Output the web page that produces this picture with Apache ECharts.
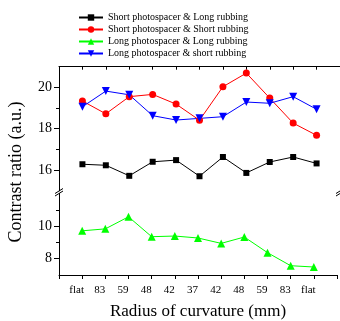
<!DOCTYPE html>
<html>
<head>
<meta charset="utf-8">
<script src="https://cdn.jsdelivr.net/npm/echarts@6/dist/echarts.min.js"></script>
<style>
  html, body { margin: 0; padding: 0; background: #fff; }
  #chart { width: 340px; height: 321px; }
</style>
</head>
<body>
<div id="chart"></div>
<script>
const categories = ['flat', '83', '59', '48', '42', '37', '42', '48', '59', '83', 'flat'];

const shortLong = [16.28, 16.23, 15.72, 16.40, 16.48, 15.70, 16.63, 15.86, 16.39, 16.63, 16.32];
const shortShort = [19.34, 18.72, 19.55, 19.66, 19.19, 18.41, 20.03, 20.69, 19.48, 18.27, 17.68];
const longLong = [9.71, 9.83, 10.57, 9.35, 9.39, 9.27, 8.94, 9.33, 8.37, 7.57, 7.49];
const longShort = [19.06, 19.82, 19.64, 18.63, 18.42, 18.50, 18.58, 19.29, 19.23, 19.55, 18.94];

const upperTicks = [16, 18, 20];
const upperMinor = [17, 19];
const lowerTicks = [8, 10];
const lowerMinor = [9, 11];

const FONT = "'Liberation Serif', 'Times New Roman', serif";
const toPairs = arr => arr.map((v, i) => [i, v]);

const chart = echarts.init(document.getElementById('chart'));

const xBase = {
    type: 'value',
    min: -1,
    max: 11,
    interval: 1,
    splitLine: { show: false },
    axisLine: { onZero: false, lineStyle: { color: '#000', width: 1 } },
};

const yMajor = (min, max, ticks, gridIndex) => ({
    type: 'value',
    gridIndex,
    position: 'left',
    min,
    max,
    splitLine: { show: false },
    axisLine: { show: true, onZero: false, lineStyle: { color: '#000', width: 1 } },
    axisTick: { show: true, length: 5, customValues: ticks, lineStyle: { color: '#000', width: 1 } },
    axisLabel: { customValues: ticks, margin: 7, color: '#000', fontFamily: FONT, fontSize: 14 },
});

// second axis on the same side, only for the short minor ticks
const yMinor = (min, max, ticks, gridIndex) => ({
    type: 'value',
    gridIndex,
    position: 'left',
    min,
    max,
    splitLine: { show: false },
    axisLine: { show: true, onZero: false, lineStyle: { color: '#000', width: 1 } },
    axisTick: { show: true, length: 3, customValues: ticks, lineStyle: { color: '#000', width: 1 } },
    axisLabel: { show: false },
});

const lineSeries = (name, data, color, symbol, size, xi, yi, rotate) => ({
    name,
    type: 'line',
    xAxisIndex: xi,
    yAxisIndex: yi,
    data: toPairs(data),
    symbol,
    symbolSize: size,
    symbolRotate: rotate || 0,
    showAllSymbol: true,
    lineStyle: { color, width: 1 },
    itemStyle: { color, borderWidth: 0 },
});

// "//" break marks on both side axes
const breakMark = cx => [
    { type: 'line', shape: { x1: cx - 4, y1: 193.5, x2: cx + 4, y2: 188.5 }, style: { stroke: '#000', lineWidth: 1 } },
    { type: 'line', shape: { x1: cx - 4, y1: 196, x2: cx + 4, y2: 191 }, style: { stroke: '#000', lineWidth: 1 } },
];

chart.setOption({
    animation: false,
    backgroundColor: '#fff',
    legend: {
        orient: 'vertical',
        left: 78,
        top: 12.5,
        padding: 0,
        itemWidth: 24,
        itemHeight: 8,
        itemGap: 2,
        textStyle: { color: '#000', fontFamily: FONT, fontSize: 10 },
        data: [
            'Short photospacer & Long rubbing',
            'Short photospacer & Short rubbing',
            'Long photospacer & Long rubbing',
            'Long photospacer & short rubbing',
        ],
    },
    grid: [
        { left: 59, width: 282, top: 66.7, height: 124 },
        { left: 59, width: 282, top: 193.5, height: 82.5 },
    ],
    xAxis: [
        {
            ...xBase,
            gridIndex: 0,
            position: 'top',
            axisTick: { show: true, inside: true, length: 3, lineStyle: { color: '#000' } },
            axisLabel: { show: false },
        },
        {
            ...xBase,
            gridIndex: 1,
            position: 'bottom',
            axisTick: { show: true, length: 4, lineStyle: { color: '#000' } },
            axisLabel: {
                color: '#000',
                fontFamily: FONT,
                fontSize: 11,
                margin: 10,
                padding: [0, 11, 0, 0],
                formatter: v => (v >= 0 && v < categories.length ? categories[v] : ''),
            },
            name: 'Radius of curvature (mm)',
            nameLocation: 'middle',
            nameGap: 28,
            nameTextStyle: { color: '#000', fontFamily: FONT, fontSize: 17 },
        },
    ],
    yAxis: [
        yMajor(15, 21, upperTicks, 0),
        yMinor(15, 21, upperMinor, 0),
        yMajor(7, 12, lowerTicks, 1),
        yMinor(7, 12, lowerMinor, 1),
    ],
    graphic: [
        {
            type: 'text',
            x: 16,
            y: 172,
            rotation: Math.PI / 2,
            style: {
                text: 'Contrast ratio (a.u.)',
                fill: '#000',
                font: "18px 'Liberation Serif', 'Times New Roman', serif",
                align: 'center',
                verticalAlign: 'middle',
            },
        },
        ...breakMark(59),
        ...breakMark(340),
    ],
    series: [
        lineSeries('Short photospacer & Long rubbing', shortLong, '#000000', 'rect', 6, 0, 0),
        lineSeries('Short photospacer & Short rubbing', shortShort, '#ff0000', 'circle', 7, 0, 0),
        lineSeries('Long photospacer & Long rubbing', longLong, '#00ff00', 'triangle', 8, 1, 2),
        lineSeries('Long photospacer & short rubbing', longShort, '#0000ff', 'triangle', 8, 0, 0, 180),
    ],
});
</script>
</body>
</html>
